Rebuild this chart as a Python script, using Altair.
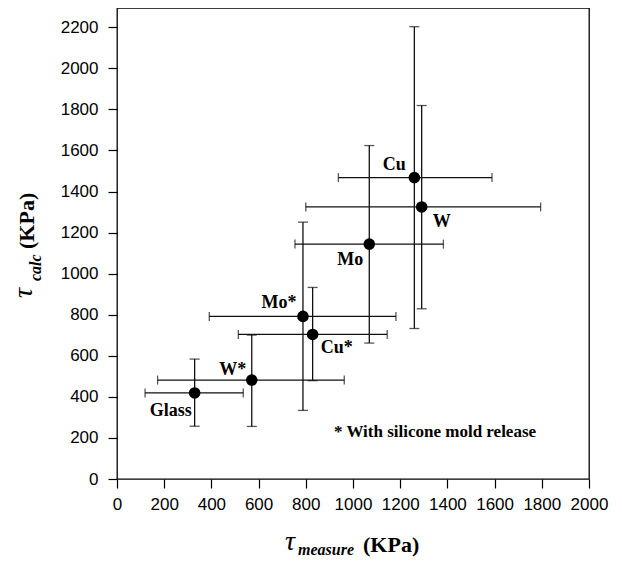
import altair as alt
import pandas as pd

# ---- data ----
names = ["Glass", "W*", "Cu*", "Mo*", "Mo", "W", "Cu"]
tau_measure = [329, 571, 829, 788, 1069, 1291, 1260]
tau_calc = [419, 482, 704, 792, 1144, 1325, 1468]
measure_lo = [119, 172, 514, 391, 754, 800, 938]
measure_hi = [535, 963, 1145, 1182, 1383, 1795, 1589]
calc_lo = [257, 256, 479, 334, 662, 829, 733]
calc_hi = [584, 701, 933, 1251, 1624, 1819, 2203]

# label offsets (pixels) relative to each point
label_dx = [-24, -19, 24, -24, -19, 20, -20]
label_dy = [18, -10, 14, -13, 16, 15, -13]

x_ticks = list(range(0, 2001, 200))
y_ticks = list(range(0, 2201, 200))

df = pd.DataFrame({
    "name": names, "xm": tau_measure, "yc": tau_calc,
    "xlo": measure_lo, "xhi": measure_hi, "ylo": calc_lo, "yhi": calc_hi,
})

xs = alt.Scale(domain=[0, 2000], nice=False, zero=False)
ys = alt.Scale(domain=[0, 2294], nice=False, zero=False)

base = alt.Chart(df)
LW = 1.3
INK = "#111111"

vbar = base.mark_rule(color=INK, strokeWidth=LW).encode(
    x=alt.X("xm:Q", scale=xs, axis=alt.Axis(values=x_ticks, title=None, format="d",
                                            labelOverlap=False, labelFlush=False)),
    y=alt.Y("ylo:Q", scale=ys, axis=alt.Axis(values=y_ticks, title=None, format="d",
                                             labelOverlap=False, labelFlush=False)),
    y2="yhi:Q")
hbar = base.mark_rule(color=INK, strokeWidth=LW).encode(
    x=alt.X("xlo:Q", scale=xs), x2="xhi:Q", y=alt.Y("yc:Q", scale=ys))

cap_ylo = base.mark_tick(orient="horizontal", color=INK, size=10, thickness=LW).encode(
    x=alt.X("xm:Q", scale=xs), y=alt.Y("ylo:Q", scale=ys))
cap_yhi = base.mark_tick(orient="horizontal", color=INK, size=10, thickness=LW).encode(
    x=alt.X("xm:Q", scale=xs), y=alt.Y("yhi:Q", scale=ys))
cap_xlo = base.mark_tick(orient="vertical", color=INK, size=9, thickness=LW).encode(
    x=alt.X("xlo:Q", scale=xs), y=alt.Y("yc:Q", scale=ys))
cap_xhi = base.mark_tick(orient="vertical", color=INK, size=9, thickness=LW).encode(
    x=alt.X("xhi:Q", scale=xs), y=alt.Y("yc:Q", scale=ys))

points = base.mark_circle(color="black", opacity=1, size=135).encode(
    x=alt.X("xm:Q", scale=xs), y=alt.Y("yc:Q", scale=ys))

labels = []
for n, dx, dy in zip(names, label_dx, label_dy):
    labels.append(
        base.transform_filter(alt.datum.name == n).mark_text(
            font="Liberation Serif", fontWeight="bold", fontSize=18,
            color="black", dx=dx, dy=dy, align="center", baseline="middle"
        ).encode(x=alt.X("xm:Q", scale=xs), y=alt.Y("yc:Q", scale=ys),
                 text="name:N"))

one = pd.DataFrame({"k": [0]})


def txt(s, x, y, size, weight="normal", style="normal", angle=0):
    return alt.Chart(one).mark_text(
        text=s, font="Liberation Serif", fontSize=size, fontWeight=weight,
        fontStyle=style, color="black", align="left", baseline="alphabetic",
        angle=angle
    ).encode(x=alt.value(x), y=alt.value(y))


note = alt.Chart(one).mark_text(
    text="* With silicone mold release", font="Liberation Serif", fontSize=17,
    fontWeight="bold", color="black", align="center", baseline="alphabetic"
).encode(x=alt.value(318), y=alt.value(429))

titles = [
    txt("τ", 168, 542, 28, style="italic"),
    txt("measure", 181, 547, 16, weight="bold", style="italic"),
    txt("(KPa)", 246, 544, 22, weight="bold"),
    txt("τ", -85, 290, 28, style="italic", angle=270),
    txt("calc", -76, 273, 16, weight="bold", style="italic", angle=270),
    txt("(KPa)", -83, 241, 22, weight="bold", angle=270),
]

chart = alt.layer(
    vbar, hbar, cap_ylo, cap_yhi, cap_xlo, cap_xhi, points, *labels, note, *titles
).properties(
    width=472, height=471,
    autosize=alt.AutoSizeParams(type="none"),
    padding={"left": 109, "top": 0, "right": 21, "bottom": 80},
).configure_view(
    stroke="black", strokeWidth=1.3
).configure_axis(
    grid=False, domain=False, ticks=True, tickSize=9, tickColor="black",
    tickWidth=1.2, labelFont="Liberation Sans", labelFontSize=17,
    labelColor="black", labelPadding=8
).configure_axisY(labelPadding=10)

chart.save("out.html", embed_options={"renderer": "svg", "actions": False})
